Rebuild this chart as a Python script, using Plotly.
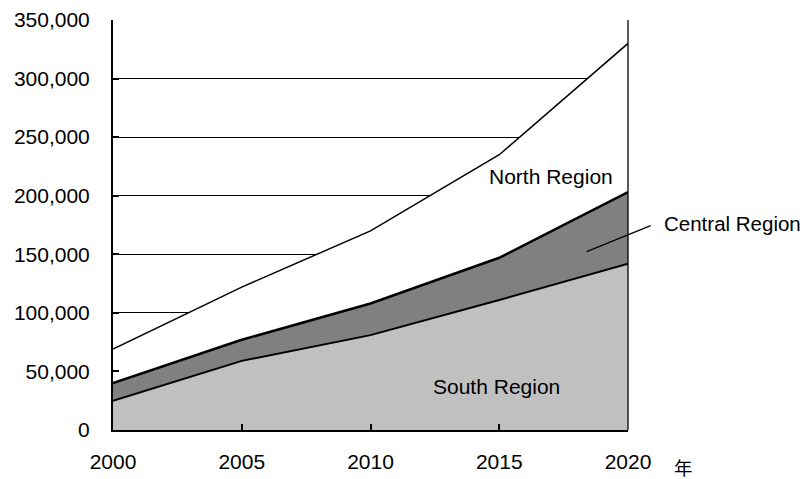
import plotly.graph_objects as go

years = [2000, 2005, 2010, 2015, 2020]
south = [25000, 59000, 81000, 111000, 142000]
central = [15000, 18000, 27000, 36000, 61000]
north = [29000, 45000, 62000, 88000, 127000]
y_ticks = [0, 50000, 100000, 150000, 200000, 250000, 300000, 350000]

FONT = "Liberation Sans, Arial, sans-serif"

fig = go.Figure()
fig.add_trace(go.Scatter(x=years, y=south, stackgroup="s", mode="lines",
                         line=dict(color="black", width=2), fillcolor="#c0c0c0",
                         name="South Region", hoverinfo="skip"))
fig.add_trace(go.Scatter(x=years, y=central, stackgroup="s", mode="lines",
                         line=dict(color="black", width=2.5), fillcolor="#808080",
                         name="Central Region", hoverinfo="skip"))
fig.add_trace(go.Scatter(x=years, y=north, stackgroup="s", mode="lines",
                         line=dict(color="black", width=1.5), fillcolor="#ffffff",
                         name="North Region", hoverinfo="skip"))

fig.update_layout(
    width=802, height=479,
    margin=dict(l=113, r=174, t=20, b=49, autoexpand=False),
    paper_bgcolor="white", plot_bgcolor="white",
    showlegend=False,
    font=dict(family=FONT, size=21, color="black"),
    xaxis=dict(range=[2000, 2020], tickvals=years, ticks="inside", ticklen=6,
               tickwidth=1.5, tickcolor="black", showline=True, linecolor="black",
               linewidth=2, showgrid=False, zeroline=False, ticklabelstandoff=12,
               automargin=False,
               tickfont=dict(family=FONT, size=21, color="black")),
    yaxis=dict(range=[0, 350000], tickvals=y_ticks, tickformat=",d", ticks="inside",
               ticklen=6, tickwidth=1.5, tickcolor="black", showline=True,
               linecolor="black", linewidth=2, showgrid=True, gridcolor="black",
               gridwidth=1.3, zeroline=False, ticklabelstandoff=17, automargin=False,
               tickfont=dict(family=FONT, size=21, color="black")),
)

# right border of plot area
fig.add_shape(type="line", xref="paper", yref="paper", x0=1, x1=1, y0=0, y1=1,
              line=dict(color="black", width=1.3))

fig.add_annotation(x=2017.0, y=216800, text="North Region", showarrow=False,
                   font=dict(family=FONT, size=21, color="black"))
fig.add_annotation(x=2014.9, y=37000, text="South Region", showarrow=False,
                   font=dict(family=FONT, size=21, color="black"))
fig.add_annotation(xref="paper", yref="paper", x=1.0654, y=0.5037, text="Central Region",
                   showarrow=False, xanchor="left", yanchor="middle",
                   font=dict(family=FONT, size=20.5, color="black"))
fig.add_shape(type="line", xref="paper", yref="paper", x0=0.9198, y0=0.4349,
              x1=1.0439, y1=0.4983, line=dict(color="black", width=1.3))
fig.add_annotation(xref="paper", yref="paper", x=1.1087, y=-0.0902, text="年",
                   showarrow=False, xanchor="center", yanchor="middle",
                   font=dict(family="Noto Sans CJK JP", size=18.5, color="black"))

fig.write_html("out.html")
